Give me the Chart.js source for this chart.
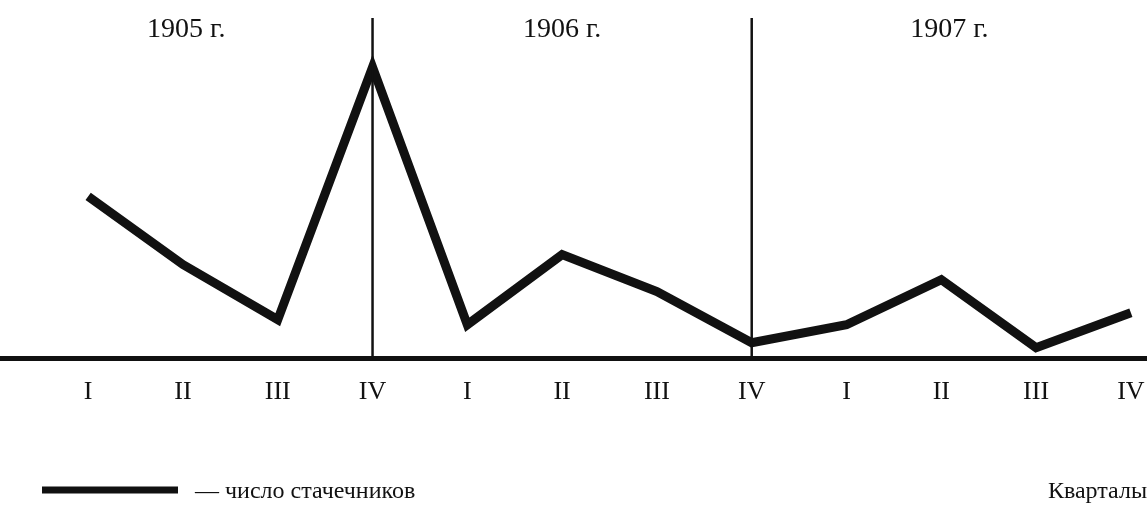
<!DOCTYPE html>
<html>
<head>
<meta charset="utf-8">
<script src="https://cdn.jsdelivr.net/npm/chart.js@4/dist/chart.umd.min.js"></script>
<style>
  html, body { margin: 0; padding: 0; background: #fff; }
  #wrap { width: 1147px; height: 507px; position: relative; }
</style>
</head>
<body>
<div id="wrap"><canvas id="strikeChart" width="1147" height="507"></canvas></div>
<script>
// ── Data ─────────────────────────────────────────────────
var quarterLabels = ["I", "II", "III", "IV", "I", "II", "III", "IV", "I", "II", "III", "IV"];
var yearLabels    = ["1905 г.", "1906 г.", "1907 г."];
var strikers      = [162, 94, 39, 291, 34, 104, 67, 16, 34, 79, 11, 46];
var yearBreaks    = [3, 7];   // quarter index where each year ends

var INK   = "#111111";
var SERIF = "'Liberation Serif', 'DejaVu Serif', serif";

// ── Year dividers, year captions, legend ─────────────────
var annotations = {
  id: "annotations",
  afterDraw: function(chart) {
    var ctx  = chart.ctx;
    var xs   = chart.scales.x;
    var area = chart.chartArea;

    ctx.save();
    ctx.strokeStyle = INK;
    ctx.lineWidth = 2.5;
    yearBreaks.forEach(function(i) {
      var x = xs.getPixelForValue(i);
      ctx.beginPath();
      ctx.moveTo(x, 18);
      ctx.lineTo(x, area.bottom);
      ctx.stroke();
    });

    var edges = [xs.min].concat(yearBreaks).concat([xs.max]);
    ctx.fillStyle = INK;
    ctx.font = "28px " + SERIF;
    ctx.textAlign = "center";
    ctx.textBaseline = "middle";
    yearLabels.forEach(function(lbl, k) {
      var x = (xs.getPixelForValue(edges[k]) + xs.getPixelForValue(edges[k + 1])) / 2;
      ctx.fillText(lbl, x, 30);
    });

    // legend
    ctx.lineWidth = 7;
    ctx.beginPath();
    ctx.moveTo(42, 490);
    ctx.lineTo(178, 490);
    ctx.stroke();
    ctx.font = "24px " + SERIF;
    ctx.textAlign = "left";
    ctx.fillText("— число стачечников", 195, 492);
    ctx.textAlign = "right";
    ctx.fillText("Кварталы", 1147, 492);
    ctx.restore();
  }
};

new Chart(document.getElementById("strikeChart"), {
  type: "line",
  data: {
    datasets: [{
      label: "число стачечников",
      data: strikers.map(function(v, i) { return { x: i, y: v }; }),
      borderColor: INK,
      borderWidth: 9,
      borderJoinStyle: "miter",
      tension: 0,
      pointRadius: 0,
      clip: false
    }]
  },
  options: {
    responsive: false,
    animation: false,
    layout: { autoPadding: false, padding: { top: 18, left: 0, right: 0, bottom: 99 } },
    plugins: { legend: { display: false }, tooltip: { enabled: false } },
    scales: {
      x: {
        type: "linear",
        min: -0.93,
        max: 11.17,
        afterBuildTicks: function(axis) {
          axis.ticks = quarterLabels.map(function(q, i) { return { value: i }; });
        },
        ticks: {
          autoSkip: false,
          maxRotation: 0,
          padding: 0,
          color: INK,
          font: { family: SERIF, size: 26 },
          callback: function(v, i) { return quarterLabels[i]; }
        },
        grid: { display: true, drawOnChartArea: false, drawTicks: true, tickLength: 18, tickColor: "rgba(0,0,0,0)" },
        border: { display: true, color: INK, width: 5 }
      },
      y: {
        display: false,
        min: 0,
        max: 340
      }
    }
  },
  plugins: [annotations]
});
</script>
</body>
</html>
